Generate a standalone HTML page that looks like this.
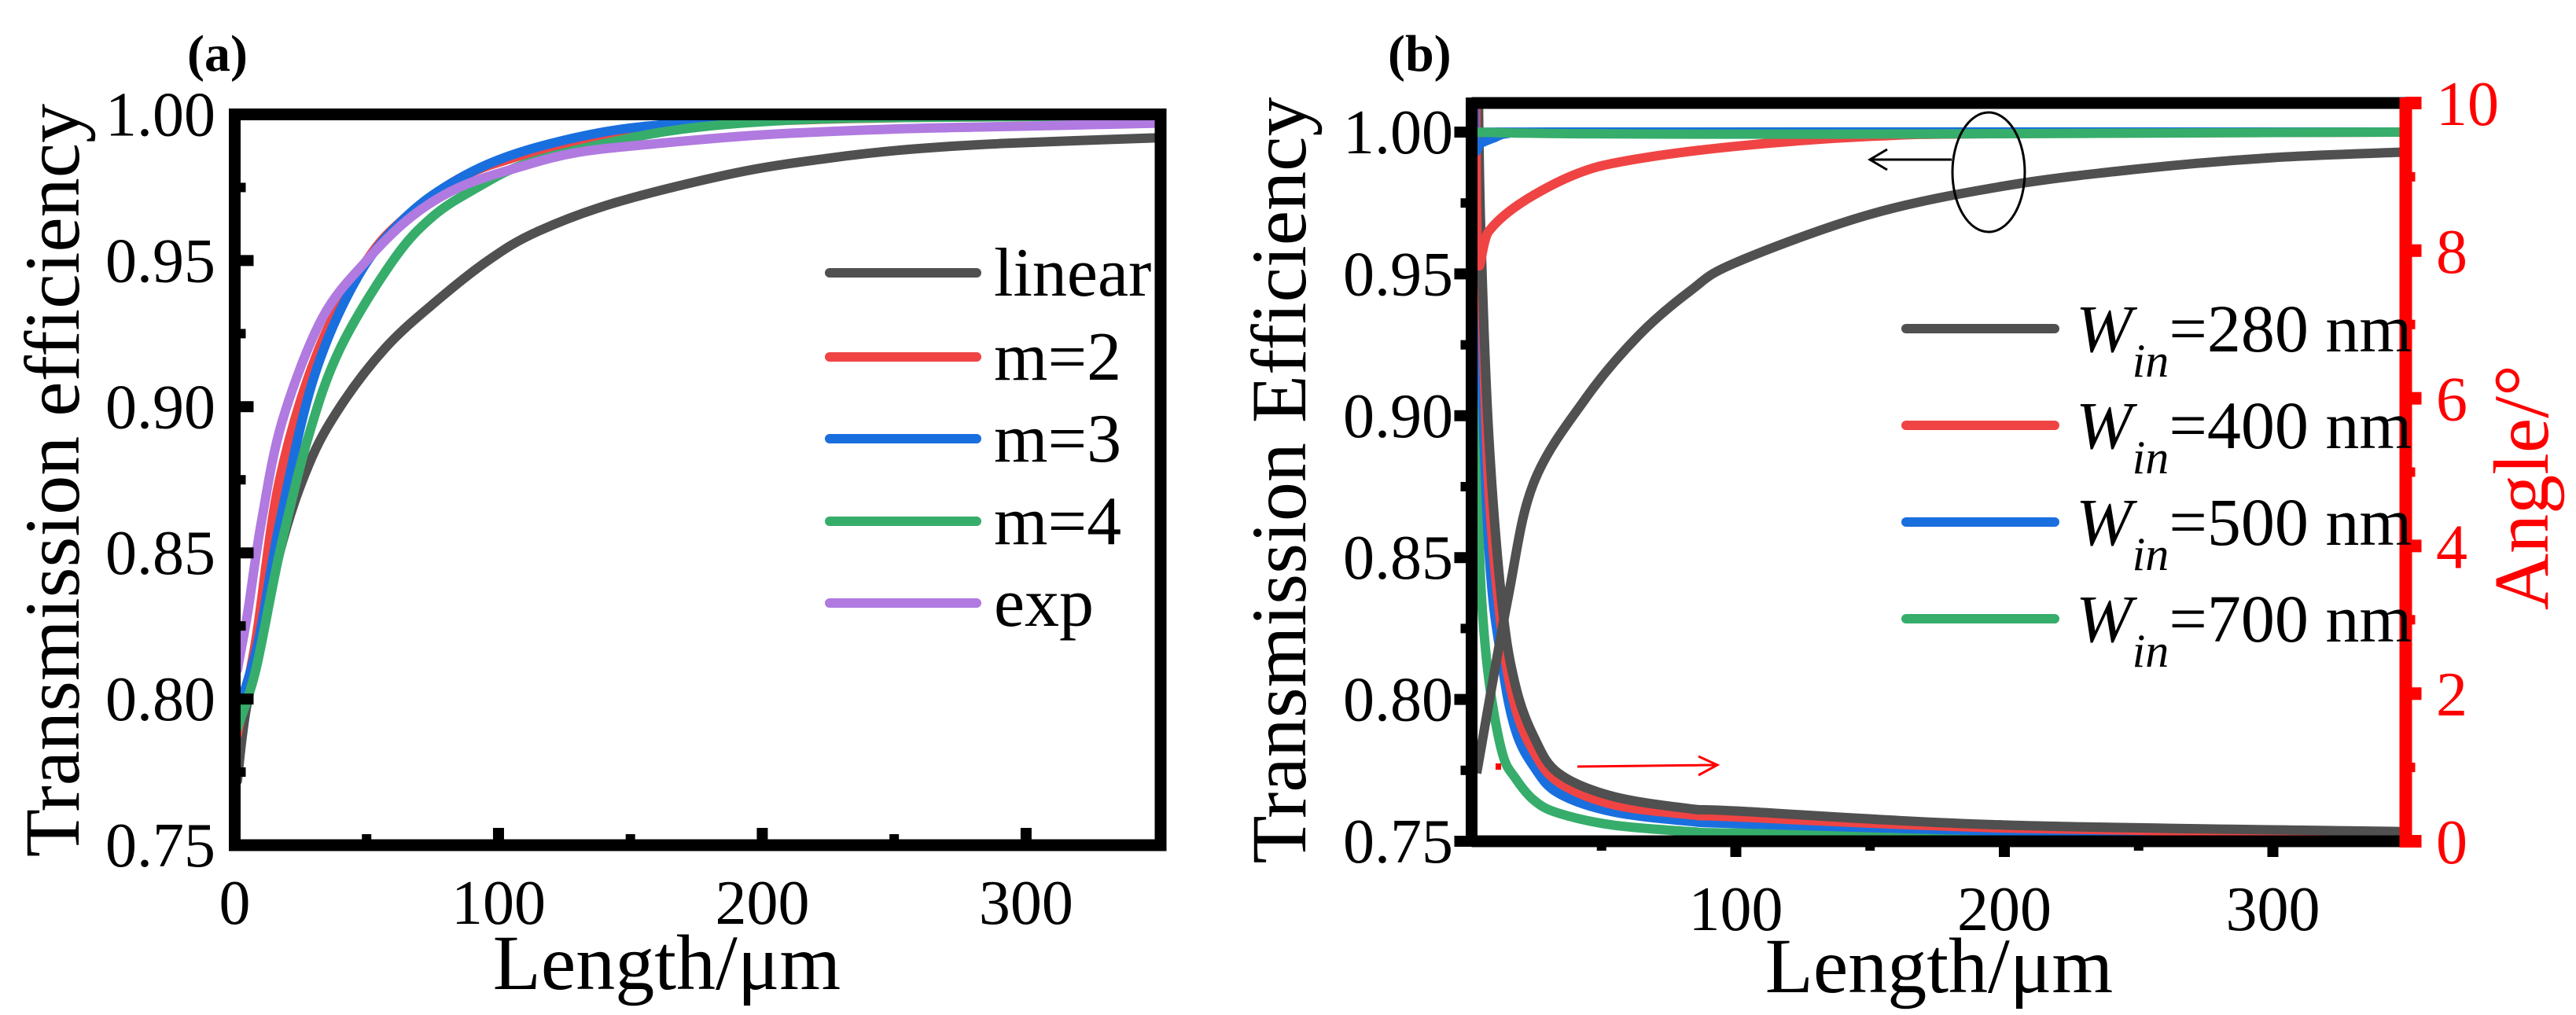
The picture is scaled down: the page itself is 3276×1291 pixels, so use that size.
<!DOCTYPE html>
<html><head><meta charset="utf-8"><style>
html,body{margin:0;padding:0;background:#fff;}
svg{display:block;}
svg text, svg tspan{font-family:"Liberation Serif","Times New Roman",serif;}
</style></head><body>
<svg id="fig" width="3276" height="1291" viewBox="0 0 3276 1291" xmlns="http://www.w3.org/2000/svg" font-family="Liberation Serif, serif">
<defs>
<clipPath id="clipA"><rect x="298" y="145" width="1178" height="930"/></clipPath>
<clipPath id="clipB"><rect x="1872" y="131" width="1188" height="939"/></clipPath>
</defs>
<g id="gA"></g>
<g id="gB"></g>
</svg>
<script>
// ---- Panel (a) data ----
const aLinearX = [1,5,17,28,40,57,75,96,115,145,190,225,255,290,350];
const aLinearY = [0.772,0.80,0.85,0.88,0.90,0.92,0.935,0.95,0.96,0.97,0.98,0.985,0.988,0.99,0.992];
const aM2X = [1,8,17,32,50,65,85,105,135,170,210,260,350];
const aM2Y = [0.788,0.82,0.875,0.92,0.95,0.965,0.978,0.985,0.992,0.996,0.998,0.999,0.9995];
const aM3X = [1,9,17,30,47,65,85,108,140,170,210,260,350];
const aM3Y = [0.795,0.82,0.86,0.91,0.945,0.965,0.978,0.987,0.994,0.997,0.999,1.0,1.0];
const aM4X = [1,8,17,28,40,60,75,92,110,140,170,210,260,350];
const aM4Y = [0.79,0.81,0.85,0.89,0.92,0.95,0.965,0.975,0.983,0.99,0.995,0.998,0.999,0.9995];
const aExpX = [1,5,10,18,33,50,67,85,108,130,160,200,250,300,350];
const aExpY = [0.81,0.83,0.86,0.895,0.93,0.95,0.965,0.975,0.982,0.987,0.99,0.993,0.995,0.996,0.997];
const aLegend = ["linear","m=2","m=3","m=4","exp"];
const aXTicks = [0,100,200,300];
const aYTicks = ["0.75","0.80","0.85","0.90","0.95","1.00"];

// ---- Panel (b) data ----
const bTE280X = [3.5,15,24.6,44,63.5,83,100,150,200,250,300,350];
const bTE280Y = [0.774,0.835,0.876,0.906,0.928,0.944,0.954,0.971,0.981,0.987,0.991,0.993];
const bTE400X = [3.2,4,8,20,40,60,100,150,200,350];
const bTE400Y = [1.01,0.955,0.965,0.975,0.985,0.99,0.995,0.9985,0.9995,1.0];
const bTE500X = [2.5,3,5,10,15,30,350];
const bTE500Y = [1.01,0.994,0.996,0.998,0.9995,1.0,1.0];
const bTE700X = [2.5,3,350];
const bTE700Y = [1.01,1.0,1.0];
const bAng280X = [4,5,8,13,18,25,34,54,83,100,200,350];
const bAng280Y = [10.5,8.3,5.5,3.2,2.1,1.4,0.92,0.61,0.44,0.41,0.22,0.13];
const bAng400X = [3.5,5,8,13,18,25,34,54,83,100,200,350];
const bAng400Y = [10.5,8.0,4.8,2.8,1.8,1.2,0.8,0.5,0.36,0.33,0.18,0.1];
const bAng500X = [3,4,8,13,18,25,34,54,83,100,200,350];
const bAng500Y = [10.5,8.0,4.0,2.4,1.5,1.0,0.65,0.4,0.27,0.24,0.14,0.06];
const bAng700X = [3,4,5,8,13,18,25,34,54,83,100,200,350];
const bAng700Y = [6.5,5.0,3.5,2.2,1.2,0.85,0.55,0.38,0.22,0.13,0.11,0.07,0.04];
const bLegend = ["=280 nm","=400 nm","=500 nm","=700 nm"];
const bXTicks = [100,200,300];
const bYTicks = ["0.75","0.80","0.85","0.90","0.95","1.00"];
const bRTicks = [0,2,4,6,8,10];

const NS = "http://www.w3.org/2000/svg";
const FF = "Liberation Serif, serif";
const COL = {k:"#505050", r:"#f04444", b:"#1a6fdf", g:"#37ad6b", p:"#b07ae0"};
function mk(tag, attrs, parent, txt){
  const e = document.createElementNS(NS, tag);
  for (const k in attrs) e.setAttribute(k, attrs[k]);
  if (tag === "text") e.setAttribute("font-family", FF);
  if (txt !== undefined) e.textContent = txt;
  parent.appendChild(e); return e;
}
function pathD(xs, ys, sx, sy){
  const p = xs.map((x,i)=>[sx(x), sy(ys[i])]);
  let d = "M"+p[0][0]+","+p[0][1];
  for (let i=0;i<p.length-1;i++){
    const p0=p[Math.max(i-1,0)], p1=p[i], p2=p[i+1], p3=p[Math.min(i+2,p.length-1)];
    const c1x=p1[0]+(p2[0]-p0[0])/6, c1y=p1[1]+(p2[1]-p0[1])/6;
    const c2x=p2[0]-(p3[0]-p1[0])/6, c2y=p2[1]-(p3[1]-p1[1])/6;
    d += " C"+c1x+","+c1y+" "+c2x+","+c2y+" "+p2[0]+","+p2[1];
  }
  return d;
}

// ===== Panel A =====
const gA = document.getElementById("gA");
const axL=298.5, axR=1476, axT=145.5, axB=1075;
const ax = v => axL + (v-0)/(351-0)*(axR-axL);
const ay = v => axB - (v-0.75)/(0.25)*(axB-axT);
const aSeries = [[aLinearX,aLinearY,COL.k,"series-linear"],[aM2X,aM2Y,COL.r,"series-m2"],[aM3X,aM3Y,COL.b,"series-m3"],[aM4X,aM4Y,COL.g,"series-m4"],[aExpX,aExpY,COL.p,"series-exp"]];
const gAc = mk("g",{"clip-path":"url(#clipA)"},gA);
aSeries.forEach(s=>{
  const el = mk("path",{d:pathD(s[0],s[1],ax,ay),fill:"none",stroke:s[2],"stroke-width":12,"stroke-linejoin":"round","stroke-linecap":"round"},gAc);
  
  
});
aXTicks.forEach(t=>{
  if(t>0){ mk("line",{x1:ax(t),x2:ax(t),y1:axB,y2:axB-22,stroke:"#000","stroke-width":14},gA); }
  const lb = mk("text",{x:ax(t),y:1175,"font-size":80,"text-anchor":"middle"},gA,String(t));
  
  
});
[50,150,250].forEach(t=>mk("line",{x1:ax(t),x2:ax(t),y1:axB,y2:axB-14,stroke:"#000","stroke-width":12},gA));
aYTicks.forEach(t=>{
  const v=parseFloat(t);
  if(v>0.75 && v<1) mk("line",{x1:axL,x2:axL+24,y1:ay(v),y2:ay(v),stroke:"#000","stroke-width":14},gA);
  const lb = mk("text",{x:274,y:ay(v)+27,"font-size":80,"text-anchor":"end"},gA,t);
  
  
});
[0.775,0.825,0.875,0.925,0.975].forEach(v=>mk("line",{x1:axL,x2:axL+14,y1:ay(v),y2:ay(v),stroke:"#000","stroke-width":12},gA));
mk("rect",{x:axL,y:axT,width:axR-axL,height:axB-axT,fill:"none",stroke:"#000","stroke-width":15},gA);
const ayt = mk("text",{x:0,y:0,"font-size":100,"text-anchor":"middle",transform:"translate(100,611) rotate(-90)"},gA,"Transmission efficiency");
 
const axt = mk("text",{x:848,y:1258,"font-size":100,"text-anchor":"middle"},gA,"Length/μm");
 
const la = mk("text",{x:238,y:90,"font-size":66,"font-weight":"bold"},gA,"(a)");
 
const aLegY=[347,454,558,663,767];
aLegend.forEach((n,i)=>{
  const g = mk("g",{},gA);
  
  
  mk("line",{x1:1055,x2:1242,y1:aLegY[i],y2:aLegY[i],stroke:aSeries[i][2],"stroke-width":12,"stroke-linecap":"round"},g);
  mk("text",{x:1264,y:aLegY[i]+29,"font-size":88},g,n);
});

// ===== Panel B =====
const gB = document.getElementById("gB");
const bL=1871.5, bR=3059.5, bT=131, bB=1070;
const bx = v => 1866 + v*3.415;
const by = v => bB - (v-0.75)/0.05*180.4;
const byR = v => bB - v/10*(bB-bT);
const gBc = mk("g",{"clip-path":"url(#clipB)"},gB);
const teS = [[bTE280X,bTE280Y,COL.k,"te-280"],[bTE400X,bTE400Y,COL.r,"te-400"],[bTE500X,bTE500Y,COL.b,"te-500"],[bTE700X,bTE700Y,COL.g,"te-700"]];
const anS = [[bAng700X,bAng700Y,COL.g,"angle-700"],[bAng500X,bAng500Y,COL.b,"angle-500"],[bAng400X,bAng400Y,COL.r,"angle-400"],[bAng280X,bAng280Y,COL.k,"angle-280"]];
anS.forEach(s=>{
  const el = mk("path",{d:pathD(s[0],s[1],bx,byR),fill:"none",stroke:s[2],"stroke-width":12,"stroke-linejoin":"round"},gBc);
  
  
});
teS.forEach(s=>{
  const el = mk("path",{d:pathD(s[0],s[1],bx,by),fill:"none",stroke:s[2],"stroke-width":12,"stroke-linejoin":"round"},gBc);
  
  
});
bYTicks.forEach(t=>{
  const v=parseFloat(t);
  mk("line",{x1:bL,x2:bL-22,y1:by(v),y2:by(v),stroke:"#000","stroke-width":14},gB);
  const lb = mk("text",{x:1848,y:by(v)+27,"font-size":80,"text-anchor":"end"},gB,t);
   
});
[0.775,0.825,0.875,0.925,0.975].forEach(v=>mk("line",{x1:bL,x2:bL-14,y1:by(v),y2:by(v),stroke:"#000","stroke-width":12},gB));
bXTicks.forEach(t=>{
  mk("line",{x1:bx(t),x2:bx(t),y1:bB,y2:bB+20,stroke:"#000","stroke-width":14},gB);
  const lb = mk("text",{x:bx(t),y:1183,"font-size":80,"text-anchor":"middle"},gB,String(t));
   
});
[50,150,250].forEach(t=>mk("line",{x1:bx(t),x2:bx(t),y1:bB,y2:bB+12,stroke:"#000","stroke-width":12},gB));
mk("line",{x1:bL,x2:bR,y1:bT,y2:bT,stroke:"#000","stroke-width":15},gB);
mk("line",{x1:bL,x2:bR,y1:bB,y2:bB,stroke:"#000","stroke-width":15},gB);
mk("line",{x1:bL,x2:bL,y1:bT-7,y2:bB+7,stroke:"#000","stroke-width":15},gB);
mk("line",{x1:bR,x2:bR,y1:bT-7,y2:bB+8,stroke:"#ff0000","stroke-width":16},gB);
bRTicks.forEach(t=>{
  mk("line",{x1:bR,x2:bR+20,y1:byR(t),y2:byR(t),stroke:"#ff0000","stroke-width":16},gB);
  const lb = mk("text",{x:3098,y:byR(t)+28,"font-size":80,fill:"#ff0000"},gB,String(t));
   
});
[1,3,5,7,9].forEach(t=>mk("line",{x1:bR,x2:bR+12,y1:byR(t),y2:byR(t),stroke:"#ff0000","stroke-width":12},gB));
const byt = mk("text",{x:0,y:0,"font-size":100,"text-anchor":"middle",transform:"translate(1660,611) rotate(-90)"},gB,"Transmission Efficiency");
 
const brt = mk("text",{x:0,y:0,"font-size":100,"text-anchor":"middle",fill:"#ff0000",transform:"translate(3240,620) rotate(-90)"},gB,"Angle/°");
 
const bxt = mk("text",{x:2466,y:1262,"font-size":100,"text-anchor":"middle"},gB,"Length/μm");
 
const lbb = mk("text",{x:1765,y:90,"font-size":66,"font-weight":"bold"},gB,"(b)");
 
const ell = mk("ellipse",{cx:2529,cy:219,rx:46,ry:76,fill:"none",stroke:"#000","stroke-width":3},gB);
 
mk("path",{d:"M2482,203 L2380,203 M2400,190 L2378,203 L2400,216",fill:"none",stroke:"#000","stroke-width":3},gB);
mk("path",{d:"M2006,975 L2182,973 M2160,962 L2184,973 L2160,986",fill:"none",stroke:"#ff0000","stroke-width":3},gB);
mk("rect",{x:1902,y:971,width:7,height:8,fill:"#ff0000"},gB);
const bLegY=[418,541,664,787];
const bCols=[COL.k,COL.r,COL.b,COL.g];
bLegend.forEach((n,i)=>{
  const g = mk("g",{},gB);
  
  
  mk("line",{x1:2424,x2:2613,y1:bLegY[i],y2:bLegY[i],stroke:bCols[i],"stroke-width":12,"stroke-linecap":"round"},g);
  const t = mk("text",{x:2640,y:bLegY[i]+29,"font-size":86},g);
  mk("tspan",{"font-style":"italic"},t,"W");
  mk("tspan",{"font-style":"italic","font-size":60,dy:32},t,"in");
  mk("tspan",{dy:-32},t,n);
});
</script>
</body></html>
